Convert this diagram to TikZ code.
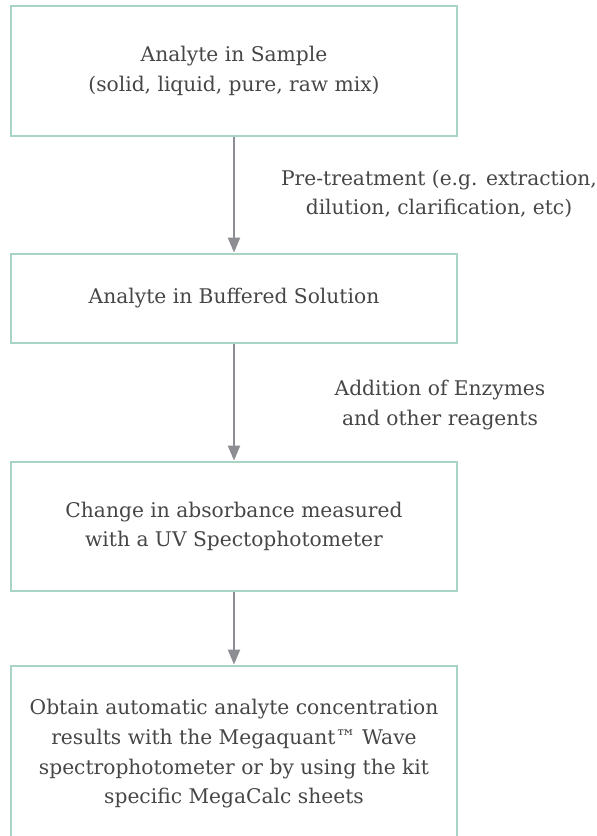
\documentclass[tikz,border=0pt]{standalone}
\usepackage{fontspec}
\setmainfont{DejaVu Serif}
\usetikzlibrary{arrows.meta}
\definecolor{boxgreen}{RGB}{168,212,196}
\definecolor{arrowgray}{RGB}{140,142,147}
\definecolor{txtgray}{RGB}{70,70,70}
\begin{document}
\begin{tikzpicture}[x=1bp,y=-1bp,
  stepbox/.style={draw=boxgreen,line width=2.8bp,minimum width=446bp,inner sep=0pt,text=txtgray,align=center,font=\fontsize{20.3}{29.8}\selectfont},
  lbl/.style={text=txtgray,align=center,font=\fontsize{20.3}{29.5}\selectfont,inner sep=0pt},
  flow/.style={draw=arrowgray,line width=2.2bp,-{Triangle[length=15bp,width=12bp]}}]
\useasboundingbox (0,0) rectangle (597,836);
\clip (0,0) rectangle (597,836);
\node[stepbox,minimum height=130bp] (b1) at (234,71) {Analyte in Sample\\(solid, liquid, pure, raw mix)};
\node[stepbox,minimum height=89bp] (b2) at (234,298.5) {Analyte in Buffered Solution};
\node[stepbox,minimum height=129bp] (b3) at (234,526.5) {Change in absorbance measured\\with a UV Spectophotometer};
\node[stepbox,minimum height=176bp] (b4) at (234,754) {Obtain automatic analyte concentration\\results with the Megaquant™ Wave\\spectrophotometer or by using the kit\\specific MegaCalc sheets};
\draw[flow] (b1.south) -- (b2.north);
\draw[flow] (b2.south) -- (b3.north);
\draw[flow] (b3.south) -- (b4.north);
\node[lbl] (l1) at (439,194) {Pre-treatment (e.g. extraction,\\dilution, clarification, etc)};
\node[lbl] (l2) at (440,405) {Addition of Enzymes\\and other reagents};
\end{tikzpicture}
\end{document}
